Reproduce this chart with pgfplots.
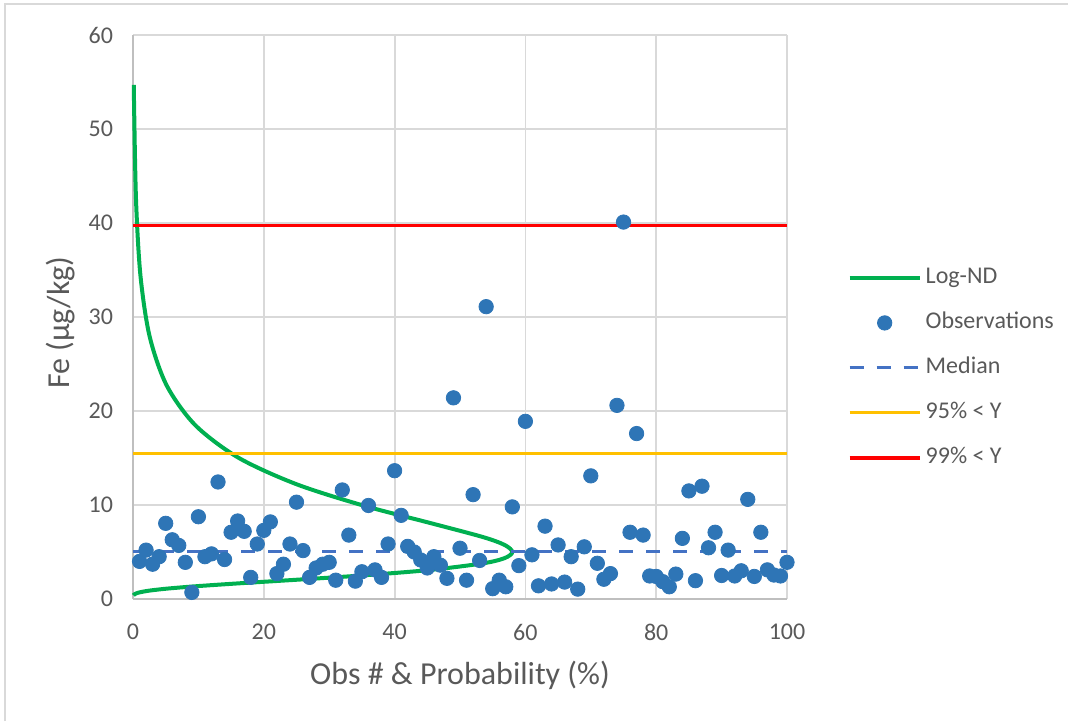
\documentclass[border=0pt]{standalone}
\usepackage{fontspec}
\setmainfont{Carlito}
\usepackage{pgfplots}
\pgfplotsset{compat=1.18}

\definecolor{lognd}{HTML}{00B050}
\definecolor{obs}{HTML}{2E75B6}
\definecolor{mediancol}{HTML}{4472C4}
\definecolor{qnfive}{HTML}{FFC000}
\definecolor{qnnine}{HTML}{FF0000}
\definecolor{gridgray}{HTML}{D9D9D9}
\definecolor{axisgray}{HTML}{BFBFBF}
\definecolor{textgray}{HTML}{595959}

\begin{document}
\begin{tikzpicture}
% page extent and chart-area frame
\path[use as bounding box] (-66.5pt,-61pt) rectangle (467.5pt,299.5pt);
\draw[gridgray, line width=0.8pt] (-64pt,-61pt) -- (-64pt,297.5pt) -- (467.5pt,297.5pt);

\begin{axis}[
  at={(0pt,0pt)}, anchor=south west,
  scale only axis, width=327pt, height=282pt,
  xmin=0, xmax=100, ymin=0, ymax=60,
  xtick={0,20,...,100}, ytick={0,10,...,60},
  grid=major,
  major grid style={gridgray, line width=0.9pt},
  axis x line*=bottom, axis y line*=left,
  axis line style={axisgray, line width=1pt, -},
  tick style={draw=none},
  ticklabel style={font=\fontsize{12}{14}\selectfont, text=textgray},
  xticklabel style={yshift=-9pt},
  yticklabel style={xshift=-6.5pt},
  /pgf/number format/assume math mode=true,
  xlabel={Obs \# \& Probability (\%)},
  ylabel={Fe (µg/kg)},
  label style={font=\fontsize{16}{19}\selectfont, text=textgray},
  xlabel style={at={(axis description cs:0.5,-0.1348)}, anchor=center},
  ylabel style={at={(axis description cs:-0.1101,0.49)}, anchor=center},
  clip=false,
  legend style={
    draw=none, fill=none,
    at={(axis description cs:1.083,0.4097)}, anchor=west,
    font=\fontsize{12}{14}\selectfont, text=textgray,
    row sep=7.5pt,
    nodes={inner sep=2pt, text height=8.5pt, text depth=2.5pt},
  },
  legend cell align=left,
  legend image code/.code={%
    \draw[mark repeat=2, mark phase=2, #1]
      plot coordinates {(0pt,0pt) (17.5pt,0pt) (35pt,0pt)};},
]

% legend entries, in the order they are listed
\addlegendimage{lognd, line width=2pt}
\addlegendentry{Log-ND}
\addlegendimage{only marks, mark=*, mark size=3.6pt, mark options={fill=obs, draw=obs}}
\addlegendentry{Observations}
\addlegendimage{mediancol, line width=1.5pt, dash pattern=on 7pt off 6.5pt}
\addlegendentry{Median}
\addlegendimage{qnfive, line width=1.5pt}
\addlegendentry{95\% < Y}
\addlegendimage{qnnine, line width=1.6pt}
\addlegendentry{99\% < Y}

% log-normal density, turned on its side (x = scaled density, y = Fe)
\addplot[lognd, line width=2pt, smooth, forget plot] coordinates {
  (0.062,0.392) (0.179,0.482) (0.475,0.593) (1.151,0.728) (2.548,0.895)
  (5.157,1.101) (9.54,1.353) (16.12,1.663) (24.92,2.044) (35.18,2.513)
  (45.40,3.089) (53.54,3.797) (56.85,4.357) (58.0,5.0) (56.85,5.738)
  (53.54,6.584) (45.40,8.093) (35.18,9.949) (24.92,12.23) (16.12,15.03)
  (9.54,18.48) (5.157,22.71) (2.548,27.92) (1.151,34.32) (0.475,42.19)
  (0.179,51.86) (0.137,54.7)
};

% median and upper quantiles
\addplot[mediancol, line width=1.5pt, dash pattern=on 7pt off 6.5pt, forget plot]
  coordinates {(0,5.0) (100,5.0)};
\addplot[qnfive, line width=1.5pt, forget plot] coordinates {(0,15.5) (100,15.5)};
\addplot[qnnine, line width=1.6pt, forget plot] coordinates {(0,39.7) (100,39.7)};

% observations
\addplot[only marks, mark=*, mark size=3.6pt, mark options={fill=obs, draw=obs}, forget plot]
  table[row sep=\\] {
  x y \\
  1 4.0 \\ 2 5.2 \\ 3 3.7 \\ 4 4.5 \\ 5 8.05 \\ 6 6.3 \\ 7 5.7 \\ 8 3.9 \\ 9 0.7 \\ 10 8.75 \\
  11 4.5 \\ 12 4.8 \\ 13 12.45 \\ 14 4.2 \\ 15 7.1 \\ 16 8.3 \\ 17 7.2 \\ 18 2.3 \\ 19 5.85 \\ 20 7.3 \\
  21 8.2 \\ 22 2.7 \\ 23 3.7 \\ 24 5.85 \\ 25 10.3 \\ 26 5.15 \\ 27 2.3 \\ 28 3.3 \\ 29 3.7 \\ 30 3.9 \\
  31 2.0 \\ 32 11.6 \\ 33 6.8 \\ 34 1.9 \\ 35 2.9 \\ 36 9.95 \\ 37 3.1 \\ 38 2.3 \\ 39 5.85 \\ 40 13.65 \\
  41 8.9 \\ 42 5.6 \\ 43 5.0 \\ 44 4.15 \\ 45 3.3 \\ 46 4.5 \\ 47 3.6 \\ 48 2.2 \\ 49 21.4 \\ 50 5.4 \\
  51 2.0 \\ 52 11.1 \\ 53 4.1 \\ 54 31.1 \\ 55 1.1 \\ 56 2.0 \\ 57 1.3 \\ 58 9.8 \\ 59 3.55 \\ 60 18.9 \\
  61 4.7 \\ 62 1.4 \\ 63 7.75 \\ 64 1.6 \\ 65 5.75 \\ 66 1.8 \\ 67 4.5 \\ 68 1.05 \\ 69 5.55 \\ 70 13.1 \\
  71 3.8 \\ 72 2.1 \\ 73 2.7 \\ 74 20.6 \\ 75 40.1 \\ 76 7.1 \\ 77 17.6 \\ 78 6.8 \\ 79 2.45 \\ 80 2.4 \\
  81 1.85 \\ 82 1.3 \\ 83 2.65 \\ 84 6.45 \\ 85 11.5 \\ 86 1.95 \\ 87 12.0 \\ 88 5.45 \\ 89 7.1 \\ 90 2.5 \\
  91 5.2 \\ 92 2.45 \\ 93 3.0 \\ 94 10.6 \\ 95 2.4 \\ 96 7.1 \\ 97 3.1 \\ 98 2.55 \\ 99 2.45 \\ 100 3.9 \\
};

\end{axis}
\end{tikzpicture}
\end{document}
